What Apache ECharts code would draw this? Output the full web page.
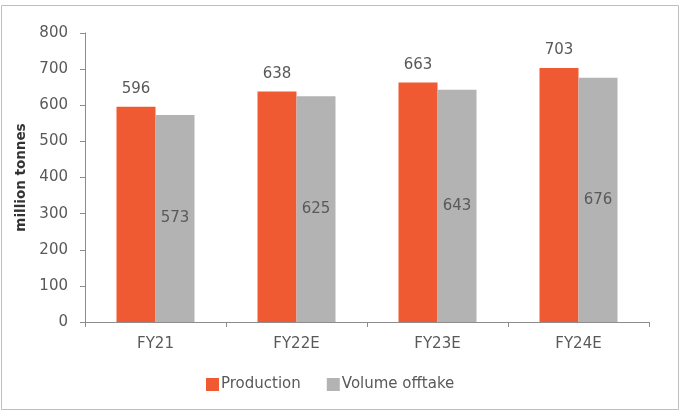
<!DOCTYPE html>
<html>
<head>
<meta charset="utf-8">
<script src="https://cdn.jsdelivr.net/npm/echarts@6/dist/echarts.min.js"></script>
<style>
  html, body { margin: 0; padding: 0; background: #fff; }
  #chart { width: 680px; height: 411px; }
</style>
</head>
<body>
<div id="chart"></div>
<script>
// chart data
const categories = ['FY21', 'FY22E', 'FY23E', 'FY24E'];
const production = [596, 638, 663, 703];
const volumeOfftake = [573, 625, 643, 676];
const seriesNames = ['Production', 'Volume offtake'];

const textColor = '#595959';
const font = 'DejaVu Sans';

var myChart = echarts.init(document.getElementById('chart'));
myChart.setOption({
  animation: false,
  textStyle: { fontFamily: font },
  graphic: [{
    type: 'rect',
    shape: { x: 1.5, y: 5.5, width: 677, height: 404 },
    style: { fill: 'none', stroke: '#bfbfbf', lineWidth: 1 }
  }],
  grid: { left: 85, right: 31, top: 33, bottom: 89, containLabel: false },
  legend: {
    data: seriesNames,
    bottom: 14,
    left: 201,
    itemWidth: 13,
    itemHeight: 13,
    itemGap: 26,
    icon: 'rect',
    textStyle: { color: textColor, fontSize: 15, fontFamily: font, padding: [0, 0, 0, -3] }
  },
  xAxis: {
    type: 'category',
    data: categories,
    axisLine: { lineStyle: { color: '#8c8c8c' } },
    axisTick: { show: true, length: 5, lineStyle: { color: '#8c8c8c' } },
    axisLabel: { color: textColor, fontSize: 15, margin: 15 }
  },
  yAxis: {
    type: 'value',
    min: 0,
    max: 800,
    interval: 100,
    name: 'million tonnes',
    nameLocation: 'middle',
    nameGap: 55,
    nameTextStyle: { color: '#333333', fontSize: 13.5, fontWeight: 'bold' },
    axisLine: { show: true, lineStyle: { color: '#8c8c8c' } },
    axisTick: { show: true, length: 5, lineStyle: { color: '#8c8c8c' } },
    axisLabel: { color: textColor, fontSize: 15, margin: 17 },
    splitLine: { show: false }
  },
  series: [
    {
      name: seriesNames[0],
      type: 'bar',
      data: production,
      barWidth: 39,
      barGap: '0%',
      itemStyle: { color: '#f05a33' },
      label: { show: true, position: 'top', distance: 10, color: textColor, fontSize: 15 }
    },
    {
      name: seriesNames[1],
      type: 'bar',
      data: volumeOfftake,
      barWidth: 39,
      itemStyle: { color: '#b3b3b3' },
      label: { show: true, position: 'inside', color: textColor, fontSize: 15 }
    }
  ]
});
</script>
</body>
</html>
